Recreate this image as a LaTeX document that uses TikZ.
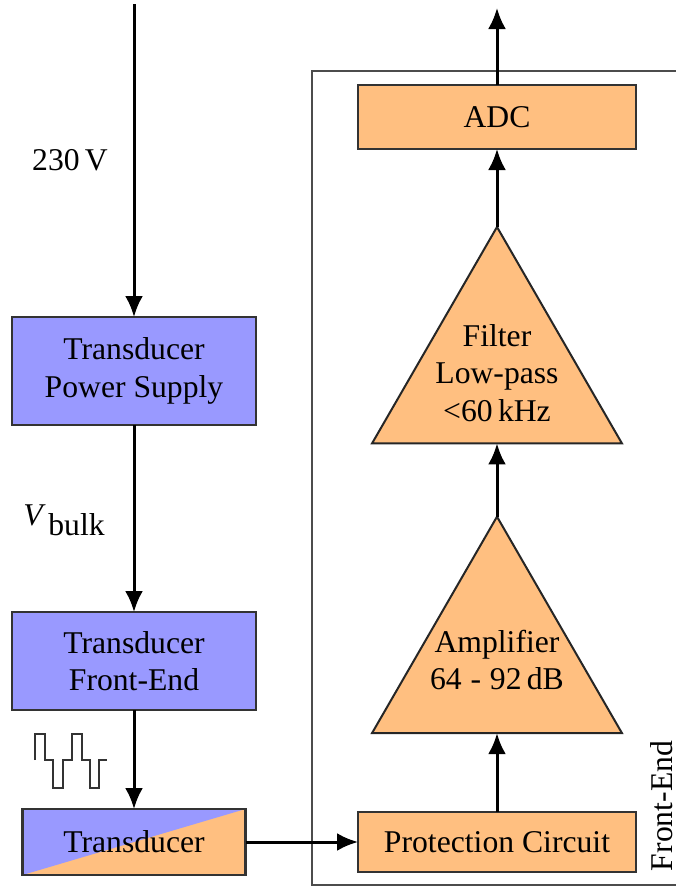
\documentclass[tikz,border=0pt]{standalone}
\usepackage{fontspec}
\setmainfont{Liberation Serif}
\usetikzlibrary{arrows.meta,shapes.geometric}
\definecolor{bluefill}{RGB}{153,153,255}
\definecolor{orangefill}{RGB}{255,191,128}
\begin{document}
\begin{tikzpicture}[x=0.3pt,y=-0.3pt,
  font=\fontsize{9.5}{11.2}\selectfont,
  box/.style={draw=black!80, line width=0.65pt, align=center, inner sep=0pt, outer sep=0pt},
  psbox/.style={box, fill=bluefill},
  adcbox/.style={box, fill=orangefill},
  tri/.style={draw=black!85, line width=0.6pt, fill=orangefill, regular polygon, regular polygon sides=3,
    minimum size=86.6pt, inner sep=0pt, outer sep=0pt},
  arr/.style={-{Latex[length=6.3pt,width=5.4pt]}, line width=0.9pt},
  frame/.style={draw=black!70, line width=0.5pt},
  wave/.style={draw=black!80, line width=0.45pt},
]
\useasboundingbox (0,0) rectangle (676,887);
\begin{scope}
  \clip (0,0) rectangle (676,887);
  \draw[frame] (312,71) rectangle (720,885);
\end{scope}

% left chain
\coordinate (in) at (134,4);
\node[psbox, minimum width=73.2pt, minimum height=32.4pt] (ps) at (134,371) {Transducer\\Power Supply};
\node[psbox, minimum width=73.2pt, minimum height=29.4pt] (fe) at (134,661) {Transducer\\Front-End};
\node[box, fill=orangefill, minimum width=66.9pt, minimum height=19.8pt,
  path picture={\fill[bluefill] (path picture bounding box.south west) -- (path picture bounding box.north west)
     -- (path picture bounding box.north east) -- cycle;}] (tr) at (134,842) {Transducer};

\node (v230) at (70,160) {230\,V};
\node (vbulk) at (64,520) {\textit{V}\kern0.8pt\raisebox{-3pt}{bulk}};

\draw[arr] (in) -- (ps.north);
\draw[arr] (ps.south) -- (fe.north);
\draw[arr] (fe.south) -- (tr.north);

% square wave
\draw[wave] (35,760) -- (35,734) -- (45,734) -- (45,760) -- (53,760) -- (53,788) -- (63,788) -- (63,760)
  -- (72,760) -- (72,734) -- (82,734) -- (82,760) -- (90,760) -- (90,788) -- (99,788) -- (99,760) -- (107,760);

% right chain
\node[adcbox, minimum width=83.4pt, minimum height=19.2pt] (adc) at (497,117) {ADC};
\node[tri] (flt) at (497,371.3) {};
\node[align=center] (flttxt) at (497,373) {Filter\\Low-pass\\<60\,kHz};
\node[tri] (amp) at (497,661) {};
\node[align=center] (amptxt) at (497,660) {Amplifier\\64\;-\;92\,dB};
\node[adcbox, minimum width=83.4pt, minimum height=18pt] (pc) at (497,842) {Protection Circuit};
\coordinate (out) at (497,8);

\draw[arr] (tr.east) -- (pc.west);
\draw[arr] (pc.north) -- (amp.south);
\draw[arr] (amp.north) -- (flt.south);
\draw[arr] (flt.north) -- (adc.south);
\draw[arr] (adc.north) -- (out);

\node[rotate=90, anchor=base] (fel) at (672,806) {Front-End};
\end{tikzpicture}
\end{document}
